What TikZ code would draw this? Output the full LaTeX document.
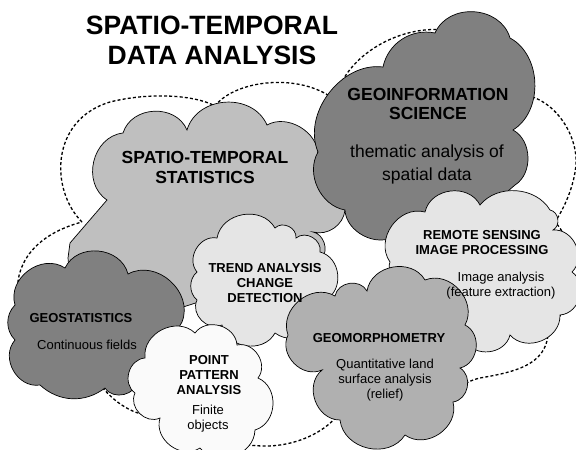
\documentclass[tikz,border=0pt]{standalone}
\usepackage{fontspec}
\setmainfont{Liberation Sans}
\usepackage{xcolor}

\definecolor{darkcloud}{gray}{0.5}
\definecolor{midcloud}{gray}{0.69}
\definecolor{greycloud}{gray}{0.75}
\definecolor{palecloud}{gray}{0.9}
\definecolor{whitecloud}{gray}{0.98}

\begin{document}
\begin{tikzpicture}[x=1pt, y=-1pt,
  puff/.style={bend left=70, looseness=1.15},
  cloudedge/.style={draw=black, line width=0.7pt},
  hull/.style={line width=1.3pt, dash pattern=on 3pt off 2.2pt},
  titletext/.style={font=\fontsize{26.5}{30}\selectfont\bfseries, align=center, inner sep=0pt},
  geohead/.style={font=\fontsize{17.5}{19.5}\selectfont\bfseries, align=center, inner sep=0pt},
  geobody/.style={font=\fontsize{17.5}{22.5}\selectfont, align=center, inner sep=0pt},
  headtext/.style={font=\fontsize{13}{15}\selectfont\bfseries, align=center, inner sep=0pt},
  bodytext/.style={font=\fontsize{13}{15}\selectfont, align=center, inner sep=0pt}]
  \useasboundingbox (0,0) rectangle (576,450);

  % Dashed hull round all fields
  \draw[hull] (82,222) .. controls (50,190) and (50,120) .. (110,102)
    .. controls (150,92) and (195,95) .. (215,106)
    .. controls (235,80) and (300,72) .. (335,100)
    .. controls (345,55) and (400,25) .. (445,30)
    -- (500,60) -- (525,95)
    .. controls (555,100) and (578,135) .. (576,165)
    .. controls (574,185) and (566,205) .. (555,222)
    .. controls (582,250) and (570,310) .. (548,335)
    .. controls (545,365) and (515,372) .. (480,378)
    .. controls (465,381) and (455,390) .. (445,408)
    -- (345,405)
    .. controls (330,432) and (295,447) .. (262,446)
    .. controls (240,445) and (220,442) .. (205,440)
    -- (165,415)
    .. controls (140,420) and (115,405) .. (98,382)
    -- (30,330)
    .. controls (5,290) and (15,240) .. (82,222);

  % Spatio-temporal statistics
  \filldraw[cloudedge, fill=greycloud] (107,200) to[puff] (123,133)
    to[puff] (187,130) to[puff] (267,125) to[bend left=60] (318,155)
    -- (340,185) -- (345,210) to[bend left=50] (313,232)
    to[bend left=60] (322,258) -- (260,295) -- (205,300) -- (180,308)
    -- (150,300) -- (70,280) -- (68,258) -- (70,243) -- cycle;

  % Geoinformation science
  \filldraw[cloudedge, fill=darkcloud] (318,152) to[bend left=60] (383,67)
    to[bend left=45] (435,33) to[puff] (510,38) to[bend left=60] (513,130)
    to[bend left=60] (515,185) -- (480,215) -- (420,230) -- (395,236)
    to[bend left=60] (345,210) to[bend left=55] (318,152) -- cycle;

  % Remote sensing
  \filldraw[cloudedge, fill=palecloud] (390,262) to[puff] (425,212)
    to[puff] (480,205) to[bend left=55] (550,210) to[puff] (553,230)
    to[puff] (572,272) to[puff] (560,315) to[puff] (510,335)
    to[puff] (465,340) -- (440,320) -- (430,290) to[puff] (404,276)
    to[puff] (390,262) -- cycle;

  % Trend analysis
  \filldraw[cloudedge, fill=palecloud] (197,272) to[puff] (217,238)
    to[puff] (275,228) to[puff] (296,238) to[puff] (320,252)
    to[puff] (325,300) to[puff] (275,333) to[puff] (222,325)
    to[puff] (197,300) to[bend left=50] (197,272) -- cycle;

  % Geomorphometry
  \filldraw[cloudedge, fill=midcloud] (288,335) to[puff] (335,296)
    to[puff] (367,291) to[puff] (425,280) to[puff] (465,325)
    to[puff] (460,368) to[puff] (453,402) to[puff] (405,435)
    to[puff] (340,420) to[puff] (322,370) to[puff] (288,335) -- cycle;

  % Geostatistics
  \filldraw[cloudedge, fill=darkcloud] (15,305) to[puff] (65,268)
    to[puff] (128,274) to[puff] (182,322) -- (160,360) -- (138,380)
    to[puff] (105,388) to[bend left=40] (40,385) to[puff] (15,340)
    to[bend left=45] (15,305) -- cycle;

  % Point pattern analysis
  \filldraw[cloudedge, fill=whitecloud] (145,358) to[puff] (195,333)
    to[puff] (237,345) to[puff] (258,378) to[puff] (255,430)
    to[puff] (200,448) to[puff] (160,418) to[puff] (135,393)
    to[puff] (145,358) -- cycle;

  % Labels
  \node[titletext] (title) at (212,40) {SPATIO-TEMPORAL\\DATA ANALYSIS};
  \node[geohead] (stats) at (205,167.5) {SPATIO-TEMPORAL\\STATISTICS};
  \node[geohead] (gis) at (428,104) {GEOINFORMATION\\SCIENCE};
  \node[geobody] (gisnote) at (427,164.5) {thematic analysis of\\spatial data};
  \node[headtext] (rs) at (482,242.5) {REMOTE SENSING\\IMAGE PROCESSING};
  \node[bodytext] (rsnote) at (501,286) {Image analysis\\(feature extraction)};
  \node[headtext] (trend) at (265,283) {TREND ANALYSIS\\CHANGE\\DETECTION};
  \node[headtext] (geostat) at (81,318) {GEOSTATISTICS};
  \node[bodytext] (geostatnote) at (87,345) {Continuous fields};
  \node[headtext] (points) at (209,375) {POINT\\PATTERN\\ANALYSIS};
  \node[bodytext] (pointsnote) at (208,419) {Finite\\objects};
  \node[headtext] (geomorph) at (379,338) {GEOMORPHOMETRY};
  \node[bodytext] (geomorphnote) at (385,380) {Quantitative land\\surface analysis\\(relief)};
\end{tikzpicture}
\end{document}
